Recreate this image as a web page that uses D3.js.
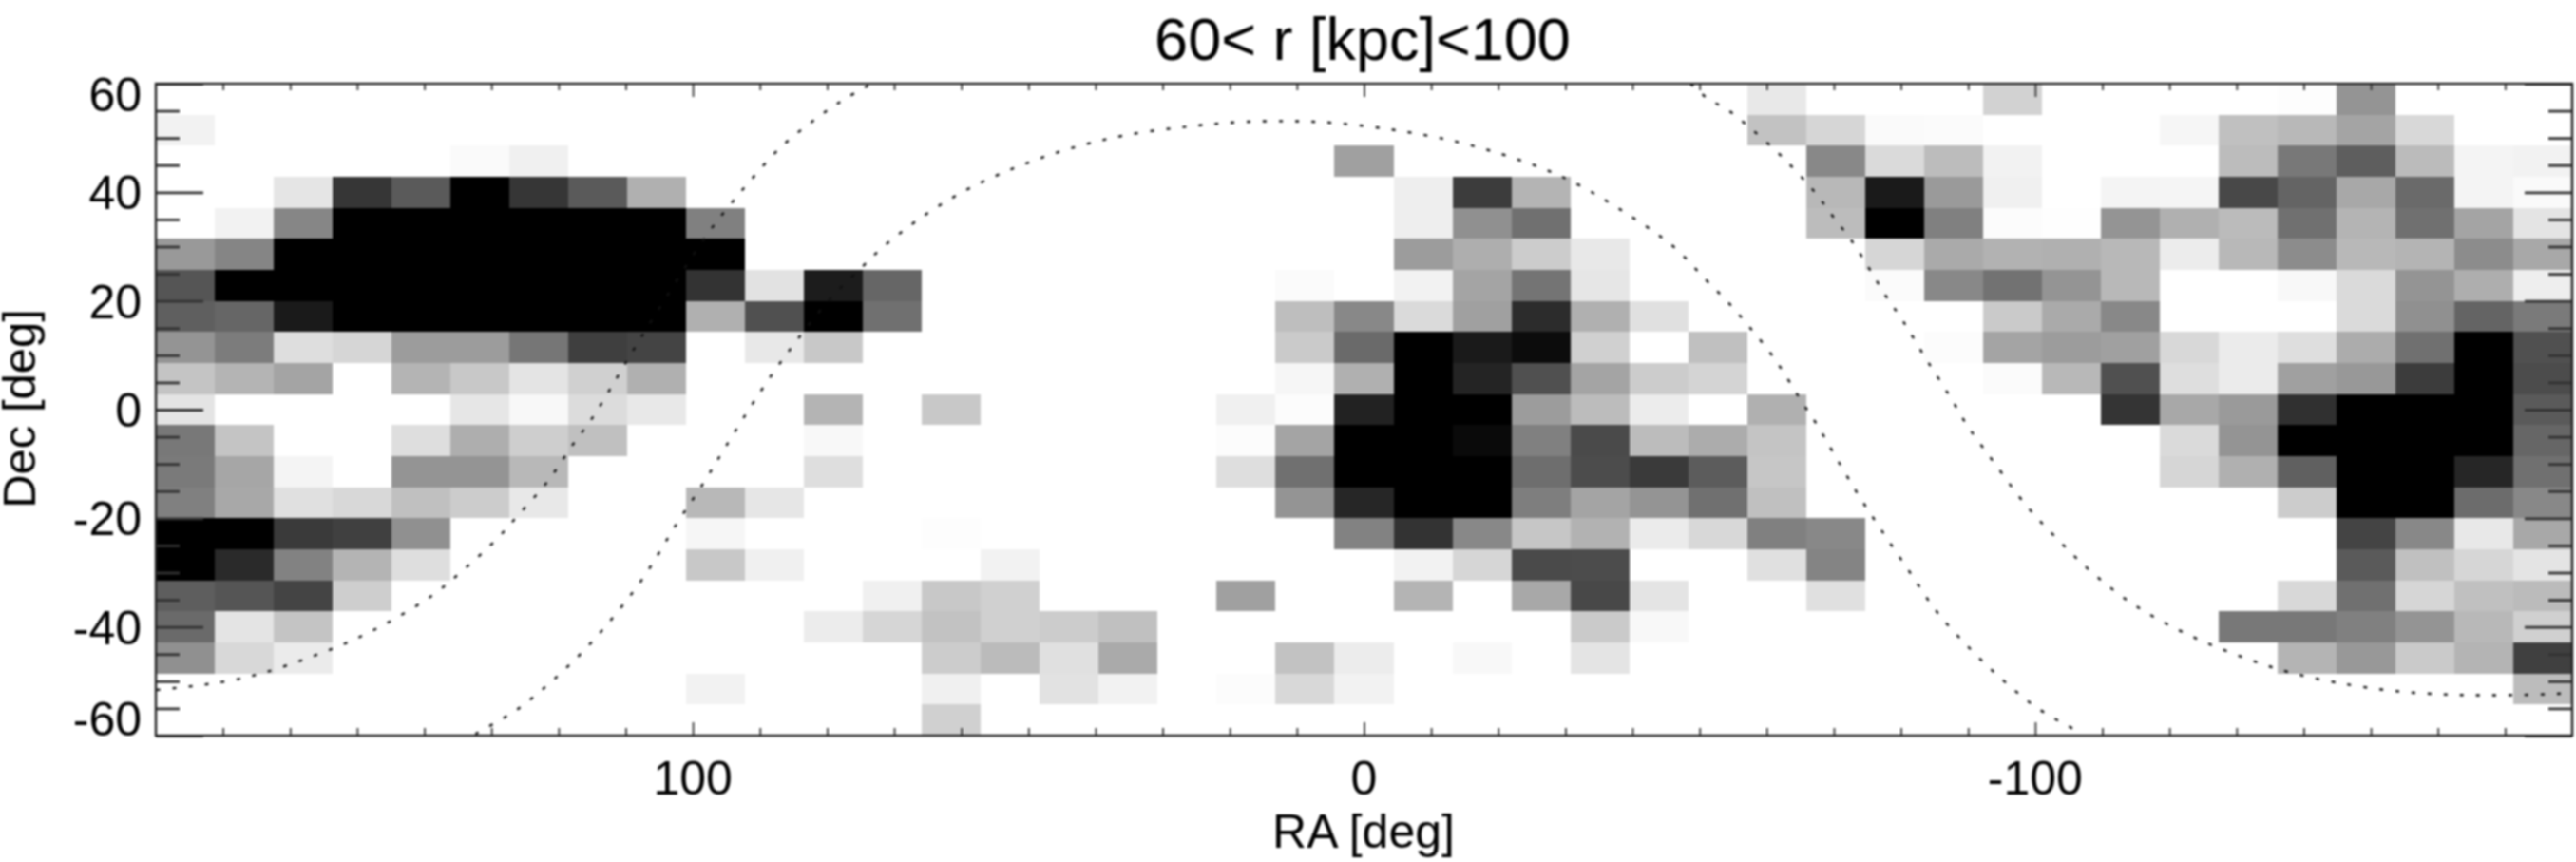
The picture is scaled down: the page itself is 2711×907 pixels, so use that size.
<!DOCTYPE html>
<html>
<head>
<meta charset="utf-8">
<script src="https://cdn.jsdelivr.net/npm/d3@7"></script>
<style>
	html, body { margin: 0; padding: 0; background: #fff; }
	svg { display: block; filter: blur(0.9px); }
	text { font-family: "Liberation Sans", sans-serif; fill: #000; }
</style>
</head>
<body>
<main></main>
<script>
// darkness of each cell, 0 = white, 255 = black. top row first, RA runs from +180 to -180
const density = [
	[0,0,0,0,0,0,0,0,0,0, 0,0,0,0,0,0,0,0,0,0, 0,0,0,0,0,0,0,23,0,0, 0,45,0,0,0,0,2,107,0,0,0],
	[13,0,0,0,0,0,0,0,0,0, 0,0,0,0,0,0,0,0,0,0, 0,0,0,0,0,0,0,61,41,5, 4,0,0,0,9,63,71,91,39,0,0],
	[0,0,0,0,0,5,15,0,0,0, 0,0,0,0,0,0,0,0,0,0, 95,0,0,0,0,0,0,0,119,37, 67,13,0,0,0,67,135,161,68,11,13],
	[0,0,26,201,165,255,201,165,79,0, 0,0,0,0,0,0,0,0,0,0, 0,17,195,75,0,0,0,0,71,229, 101,15,0,11,10,183,155,87,149,11,5],
	[0,13,121,255,255,255,255,255,255,127, 0,0,0,0,0,0,0,0,0,0, 0,17,111,143,0,0,0,0,67,255, 127,3,1,107,79,68,143,75,143,91,27],
	[102,122,255,255,255,255,255,255,255,255, 0,0,0,0,0,0,0,0,0,0, 0,99,81,51,23,0,0,0,0,41, 85,77,79,71,19,71,115,71,75,115,87],
	[170,255,255,255,255,255,255,255,255,204, 29,227,153,0,0,0,0,0,0,4, 0,13,91,139,25,0,0,0,0,4, 119,141,107,71,0,0,7,37,107,81,17],
	[160,153,229,255,255,255,255,255,255,79, 175,255,143,0,0,0,0,0,0,65, 119,37,95,211,79,31,0,0,0,0, 0,53,85,119,0,0,0,37,111,155,133],
	[107,131,33,41,99,99,137,192,187,0, 23,55,0,0,0,0,0,0,0,53, 149,255,229,243,47,0,63,0,0,0, 3,91,99,95,39,20,33,83,143,255,175],
	[59,75,91,0,75,55,27,47,79,0, 0,0,0,0,0,0,0,0,0,9, 79,255,219,175,91,51,43,0,0,0, 0,4,71,175,33,20,95,103,195,255,179],
	[27,0,0,0,0,25,7,35,23,0, 0,75,0,55,0,0,0,0,15,3, 221,255,255,99,67,19,0,79,0,0, 0,0,0,203,87,101,207,255,255,255,165],
	[135,59,0,0,33,81,49,63,0,0, 0,7,0,0,0,0,0,0,3,91, 255,255,245,127,181,67,83,59,0,0, 0,0,0,0,37,107,255,255,255,255,153],
	[133,89,11,0,107,107,71,0,0,0, 0,33,0,0,0,0,0,0,33,143, 255,255,255,145,179,197,163,57,0,0, 0,0,0,0,41,79,159,255,255,217,143],
	[127,87,31,39,63,51,23,0,0,71, 25,0,0,0,0,0,0,0,0,107, 217,255,255,129,91,107,143,63,0,0, 0,0,0,0,0,0,51,255,255,147,119],
	[255,255,197,191,111,0,0,0,0,9, 0,0,0,2,0,0,0,0,0,0, 125,204,119,57,77,20,39,127,119,0, 0,0,0,0,0,0,0,187,119,23,87],
	[255,213,125,75,33,0,0,0,0,55, 15,0,0,0,13,0,0,0,0,0, 0,13,41,181,179,0,0,31,123,0, 0,0,0,0,0,0,0,165,63,41,27],
	[161,170,187,49,0,0,0,0,0,0, 0,0,15,55,47,0,0,0,95,0, 0,75,0,87,183,27,0,0,31,0, 0,0,0,0,0,0,39,143,41,63,68],
	[149,27,59,0,0,0,0,0,0,0, 0,19,41,61,47,51,63,0,0,0, 0,0,0,0,53,7,0,0,0,0, 0,0,0,0,0,135,135,127,107,71,47],
	[111,39,20,0,0,0,0,0,0,0, 0,0,0,51,68,31,85,0,0,61, 19,0,7,0,27,0,0,0,0,0, 0,0,0,0,0,0,75,103,53,75,191],
	[0,0,0,0,0,0,0,0,0,13, 0,0,0,15,0,29,13,0,3,39, 13,0,0,0,0,0,0,0,0,0, 0,0,0,0,0,0,0,0,0,0,67],
	[0,0,0,0,0,0,0,0,0,0, 0,0,0,47,0,0,0,0,0,0, 0,0,0,0,0,0,0,0,0,0, 0,0,0,0,0,0,0,0,0,0,0]
]

// dotted curves, [RA, Dec]
const innerCurve = [[132.4,-59.7],[126.3,-55.3],[121.1,-50.1],[116.2,-44.3],[111.6,-37.8],[107.3,-30.8],[102.4,-21],[98.3,-13.3],[95.1,-6.8],[90.2,2.8],[86.1,10.1],[79.6,20.3],[74.9,26.1],[71.7,29.9],[67.6,33.9],[63.6,37.3],[57.9,41.3],[51.4,44.8],[44.5,47.8],[36,50.4],[26.2,52.1],[17.3,53],[7.5,53],[0.6,52.3],[-8.8,50.6],[-16.1,48.6],[-25.1,45.1],[-31.6,41.6],[-39.6,35.7],[-46.2,29.9],[-51,23.8],[-54.2,19.8],[-57.3,15.4],[-61.2,9.3],[-65,1.9],[-67.6,-3],[-69.9,-7.9],[-73.5,-15.4],[-77.2,-22.4],[-81.3,-29.9],[-85.4,-37.3],[-90.2,-43.9],[-95.1,-49.7],[-100.4,-55],[-106.5,-59.3]]
const outerLeft = [[179.9,-51.6],[173.9,-50.8],[169,-49.9],[164.1,-48.5],[157.3,-45.7],[150.8,-42.5],[144.7,-38.7],[138.6,-34],[134.1,-29.4],[129.2,-23.8],[126,-19.4],[121.5,-13],[117.8,-6.3],[115,-1.6],[111.3,5.9],[107.7,13.3],[98,32],[94.7,37.3],[91.4,42.2],[86.9,48.3],[81.7,53.5],[77.6,57],[73.3,60]]
const outerRight = [[-48.6,60],[-49.8,58.8],[-51.4,57],[-53.7,55.6],[-57.3,52.1],[-62.4,46.4],[-67.1,40.1],[-69.9,35.5],[-72.8,30.8],[-75.2,26.1],[-77.6,21.2],[-80.3,16.3],[-83.7,9.4],[-87.3,2.4],[-89.8,-2.8],[-91,-4.9],[-93.9,-9.8],[-98.7,-17.7],[-103.6,-24.2],[-108.4,-29.9],[-114.2,-35.5],[-120.3,-39.9],[-126.8,-43.6],[-133.3,-46.6],[-137.7,-48.3],[-144.7,-50.2],[-153.6,-51.8],[-162.9,-52.5],[-172.7,-52.5],[-179.6,-52.2]]

const raMajor = [100, 0, -100]
const raMinor = [170,160,150,140,130,120,110,90,80,70,60,50,40,30,20,10,-10,-20,-30,-40,-50,-60,-70,-80,-90,-110,-120,-130,-140,-150,-160,-170]
const decMajor = [60, 40, 20, 0, -20, -40, -60]
const decMinor = [55,50,45,35,30,25,15,10,5,-5,-10,-15,-25,-30,-35,-45,-50,-55]

const width = 2711
const height = 907
const left = 164
const right = 2707
const top_ = 88
const bottom = 774

const svg = d3.select('main')
	.append('svg')
	.attr('width', width)
	.attr('height', height)

const xScale = d3.scaleLinear().domain([180, -180]).range([left, right])
const yScale = d3.scaleLinear().domain([-60, 60]).range([bottom, top_])

// Heat map
const colBand = d3.scaleBand().domain(d3.range(density[0].length)).range([left, right])
const rowBand = d3.scaleBand().domain(d3.range(density.length)).range([top_, bottom])
const shade = d3.scaleLinear().domain([0, 255]).range(['#ffffff', '#000000'])

svg.append('g')
	.selectAll('g')
	.data(density)
	.enter()
	.append('g')
	.attr('transform', (d, i) => `translate(0,${rowBand(i)})`)
	.selectAll('rect')
	.data(d => d)
	.enter()
	.append('rect')
	.attr('x', (d, i) => colBand(i))
	.attr('width', colBand.bandwidth())
	.attr('height', rowBand.bandwidth())
	.attr('fill', d => shade(d))
	.attr('shape-rendering', 'crispEdges')

// Dotted curves
const line = d3.line()
	.x(d => xScale(d[0]))
	.y(d => yScale(d[1]))
	.curve(d3.curveCatmullRom)

svg.append('g')
	.selectAll('path')
	.data([innerCurve, outerLeft, outerRight])
	.enter()
	.append('path')
	.attr('d', line)
	.attr('fill', 'none')
	.attr('stroke', '#111')
	.attr('stroke-width', 2.4)
	.attr('stroke-dasharray', '4 13')

// Axes, ticks point inwards
const xAxisAt = (make, y, values, size) => svg.append('g')
	.attr('transform', `translate(0,${y})`)
	.call(make(xScale).tickValues(values).tickSize(size).tickFormat(''))
	.call(g => g.select('.domain').remove())
	.call(g => g.selectAll('line').attr('stroke', '#333').attr('stroke-width', 1.8))

const yAxisAt = (make, x, values, size) => svg.append('g')
	.attr('transform', `translate(${x},0)`)
	.call(make(yScale).tickValues(values).tickSize(size).tickFormat(''))
	.call(g => g.select('.domain').remove())
	.call(g => g.selectAll('line').attr('stroke', '#333').attr('stroke-width', 2.8))

xAxisAt(d3.axisBottom, top_, raMinor, 7)
xAxisAt(d3.axisBottom, top_, raMajor, 14)
xAxisAt(d3.axisTop, bottom, raMinor, 8)
xAxisAt(d3.axisTop, bottom, raMajor, 14)
yAxisAt(d3.axisRight, left, decMinor, 25)
yAxisAt(d3.axisRight, left, decMajor, 50)
yAxisAt(d3.axisLeft, right, decMinor, 25)
yAxisAt(d3.axisLeft, right, decMajor, 50)

// Frame
svg.append('rect')
	.attr('x', left)
	.attr('y', top_)
	.attr('width', right - left)
	.attr('height', bottom - top_)
	.attr('fill', 'none')
	.attr('stroke', '#222')
	.attr('stroke-width', 2.4)

// Tick labels
svg.append('g')
	.selectAll('text')
	.data(raMajor)
	.enter()
	.append('text')
	.attr('x', d => xScale(d))
	.attr('y', 836)
	.attr('text-anchor', 'middle')
	.attr('font-size', 50)
	.text(d => d)

svg.append('g')
	.selectAll('text')
	.data(decMajor)
	.enter()
	.append('text')
	.attr('x', 149)
	.attr('y', d => yScale(d))
	.attr('dy', d => d === 60 ? 29 : d === -60 ? 0 : 18)
	.attr('text-anchor', 'end')
	.attr('font-size', 50)
	.text(d => d)

// Titles
svg.append('text')
	.attr('x', 1434)
	.attr('y', 63)
	.attr('text-anchor', 'middle')
	.attr('font-size', 63)
	.text('60< r [kpc]<100')

svg.append('text')
	.attr('x', 1435)
	.attr('y', 892)
	.attr('text-anchor', 'middle')
	.attr('font-size', 50)
	.text('RA [deg]')

svg.append('text')
	.attr('transform', 'translate(37,430) rotate(-90)')
	.attr('text-anchor', 'middle')
	.attr('font-size', 49)
	.text('Dec [deg]')
</script>
</body>
</html>
